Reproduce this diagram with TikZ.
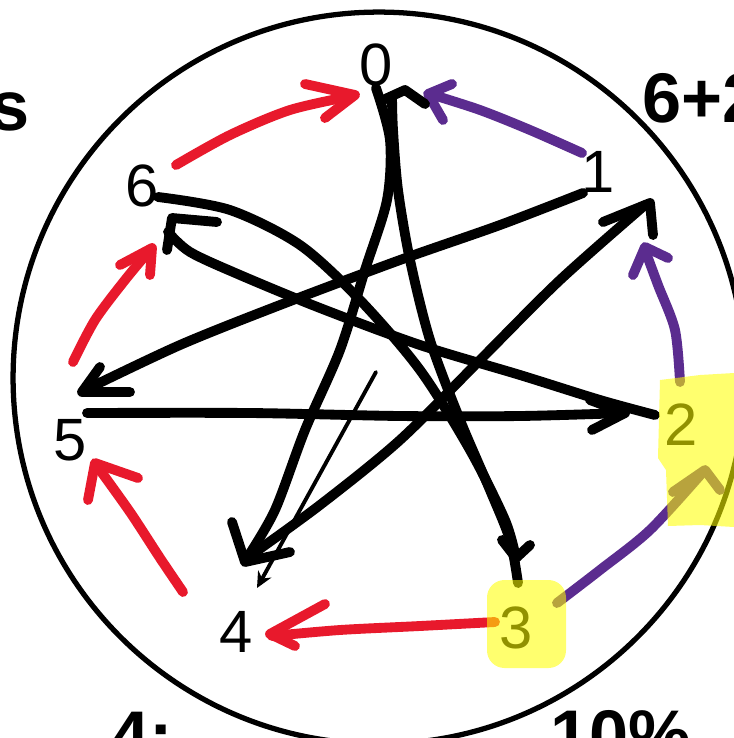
\documentclass[tikz,border=0pt]{standalone}
\usepackage{fontspec}
\setmainfont{Liberation Sans}
\usetikzlibrary{arrows.meta}
\definecolor{hred}{RGB}{232,25,44}
\definecolor{hpurp}{RGB}{91,44,143}
\definecolor{hyel}{RGB}{255,255,0}
\begin{document}
\begin{tikzpicture}[x=0.02cm,y=-0.02cm,
  stroke/.style={line width=5.6pt,line cap=round,line join=round},
  blk/.style={stroke,draw=black},
  redl/.style={stroke,draw=hred},
  purl/.style={stroke,draw=hpurp},
  thinl/.style={line width=2.2pt,line cap=round,-{Stealth[length=0.32cm,width=0.3cm]}},
  lbl/.style={font=\fontsize{34}{34}\selectfont,inner sep=0pt},
  hand/.style={font=\fontsize{40}{40}\selectfont\bfseries,inner sep=0pt},
  hl/.style={fill=hyel,opacity=0.57,draw=none}]
\useasboundingbox (0,0) rectangle (734,738);
\fill[white] (0,0) rectangle (734,738);
% circle
\node[draw,circle,line width=3pt,minimum size=14.64cm,inner sep=0pt] (ring) at (379,378) {};
% labels
\node[lbl] (n0) at (376,65) {0};
\node[lbl] (n1) at (598,172) {1};
\node[lbl] (n2) at (681,425) {2};
\node[lbl] (n3) at (516,628) {3};
\node[lbl] (n4) at (236,632) {4};
\node[lbl] (n5) at (70,440) {5};
\node[lbl] (n6) at (142,186) {6};
% partial handwritten texts at the margins
\node[hand,anchor=east] (tl) at (30,112) {s};
\node[hand,anchor=west] (tr) at (642,98) {6+2};
\node[hand,anchor=north west] (bl) at (110,712) {4:};
\node[hand,anchor=north west] (br) at (550,710) {10\%};
% red edges
\draw[redl] plot[smooth] coordinates {(495,622) (420,626) (340,630) (272,636)};
\draw[redl] (325,604) -- (270,634) -- (295,646);
\draw[redl] plot[smooth] coordinates {(183,592) (160,558) (130,512) (97,466)};
\draw[redl] (88,500) -- (95,463) -- (138,478);
\draw[redl] plot[smooth] coordinates {(73,362) (95,320) (125,280) (150,250)};
\draw[redl] (120,265) -- (152,248) -- (150,275);
\draw[redl] plot[smooth] coordinates {(176,165) (230,135) (290,110) (352,96)};
\draw[redl] (305,84) -- (355,95) -- (325,118);
% purple edges
\draw[purl] plot[smooth] coordinates {(582,153) (530,130) (480,110) (430,94)};
\draw[purl] (452,84) -- (428,94) -- (443,120);
\draw[purl] plot[smooth] coordinates {(680,382) (675,330) (658,285) (645,250)};
\draw[purl] (633,275) -- (645,247) -- (668,258);
\draw[purl] plot[smooth] coordinates {(557,603) (600,570) (650,530) (703,472)};
\draw[purl] (673,492) -- (705,470) -- (720,490);
% black star edges
\draw[blk] plot[smooth] coordinates {(376,88) (390,140) (387,200) (365,270) (340,350) (305,430) (275,510) (247,558)};
\draw[blk] (232,522) -- (245,562) -- (290,552);
\draw[blk] plot[smooth] coordinates {(247,558) (320,505) (400,440) (480,360) (560,280) (645,205)};
\draw[blk] (603,222) -- (650,203) -- (653,235);
\draw[blk] plot[smooth] coordinates {(583,193) (500,225) (400,260) (280,305) (180,345) (85,390)};
\draw[blk] (100,367) -- (82,392) -- (130,392);
\draw[blk] plot[smooth] coordinates {(87,413) (250,413) (400,416) (520,416) (625,413)};
\draw[blk] (590,400) -- (625,413) -- (592,430);
\draw[blk] plot[smooth] coordinates {(655,415) (600,400) (520,375) (420,345) (320,308) (240,275) (190,252) (168,232)};
\draw[blk] (217,222) -- (172,218) -- (167,250);
\draw[blk] plot[smooth] coordinates {(158,197) (230,210) (300,245) (360,300) (420,370) (470,450) (505,520) (516,558)};
\draw[blk] (502,540) -- (516,558) -- (530,545);
\draw[blk] plot[smooth] coordinates {(518,583) (510,540) (490,490) (460,420) (430,340) (410,260) (398,190) (393,130) (392,96)};
\draw[blk] (383,100) -- (405,90) -- (425,104);
% thin arrow
\coordinate (t1) at (376,372);
\coordinate (t2) at (257,588);
\draw[thinl] (t1) -- (t2);
% highlights
\fill[hl] (660,380) -- (700,375) -- (734,373) -- (734,527) -- (700,525) -- (668,526) -- (666,470) -- (658,458) -- cycle;
\fill[hl,rounded corners=10pt] (487,580) rectangle (566,668);
\end{tikzpicture}
\end{document}
